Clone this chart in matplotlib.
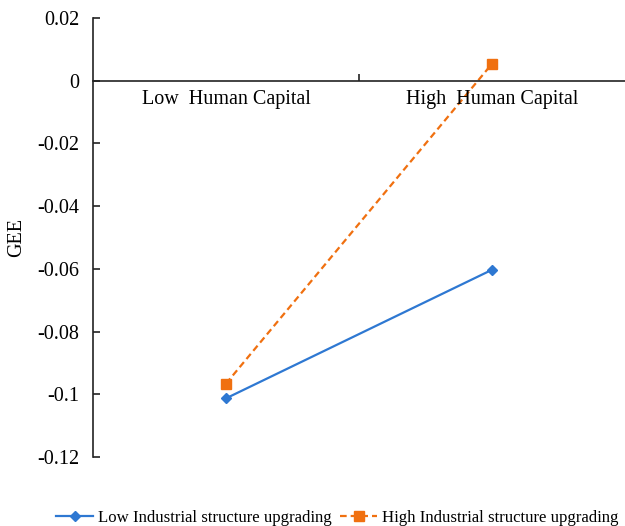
import matplotlib
matplotlib.use("Agg")
import matplotlib.pyplot as plt

# data
categories = ["Low  Human Capital", "High  Human Capital"]
low_isu = [-0.1013, -0.0603]
high_isu = [-0.0966, 0.0054]
yticks = [0.02, 0, -0.02, -0.04, -0.06, -0.08, -0.1, -0.12]

plt.rcParams['font.family'] = ['Liberation Serif', 'DejaVu Serif']

fig = plt.figure(figsize=(6.25, 5.26), dpi=100)
ax = fig.add_axes([0.1488, 0.1312, 0.8512, 0.8346])

x = [1, 2]
ax.plot(x, low_isu, color='#2E78D2', lw=1.6, marker='D', ms=5.5,
        label='Low Industrial structure upgrading')
ax.plot(x, high_isu, color='#F07010', lw=1.6, ls='--', marker='s', ms=7,
        dashes=(3, 1.8), label='High Industrial structure upgrading')

ax.set_xlim(0.5, 2.5)
ax.set_ylim(-0.12, 0.02)
ax.set_yticks(yticks)
ax.set_yticklabels([f"{v:g}" for v in yticks])

ax.spines['top'].set_visible(False)
ax.spines['right'].set_visible(False)
ax.spines['bottom'].set_position(('data', 0))
for s in ('left', 'bottom'):
    ax.spines[s].set_linewidth(1.2)
    ax.spines[s].set_color('#222222')

ax.set_xticks([1.5])
ax.set_xticklabels([''])
ax.tick_params(axis='both', direction='in', length=5, width=1.2, color='#222222',
               labelsize=14.5, pad=10)

for xi, c in zip(x, categories):
    ax.text(xi, -0.0059, c, ha='center', va='center', fontsize=14.5)

ax.set_ylabel('GEE', fontsize=14.5, labelpad=8)

fig.legend(loc='center', bbox_to_anchor=(0.54, 0.016), ncol=2, frameon=False,
           fontsize=12.1, handlelength=2.2, handletextpad=0.3, columnspacing=0.5)

fig.savefig('out.png', dpi=100)
